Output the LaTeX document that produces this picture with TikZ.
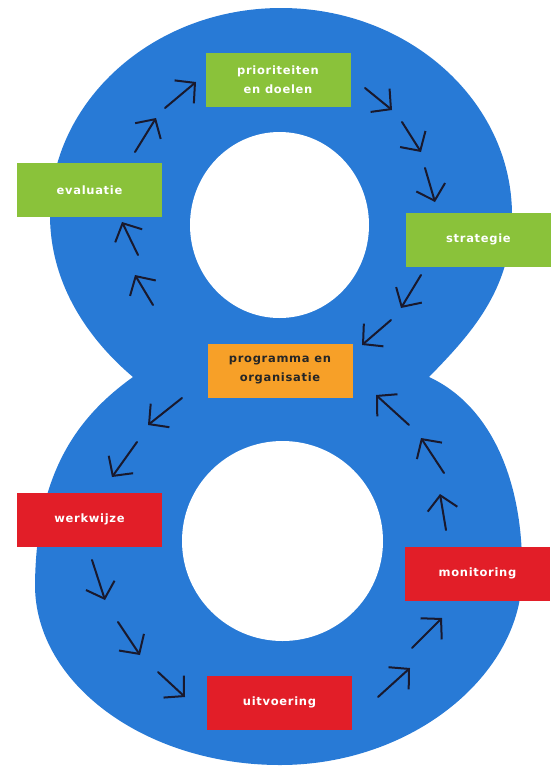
\documentclass[tikz,border=0pt]{standalone}
\usepackage{fontspec}
\usetikzlibrary{arrows.meta}
\newfontfamily\boxfont[LetterSpace=6]{DejaVu Sans}
\definecolor{eightblue}{RGB}{40,122,214}
\definecolor{boxgreen}{RGB}{138,194,58}
\definecolor{boxorange}{RGB}{247,160,40}
\definecolor{boxred}{RGB}{226,30,40}
\definecolor{arrowink}{RGB}{25,25,45}
\tikzset{
  stagebox/.style={minimum width=145pt, minimum height=54pt, inner sep=0pt,
    align=center, font=\boxfont\bfseries\fontsize{11.5}{19}\selectfont},
  greenbox/.style={stagebox, fill=boxgreen, text=white},
  redbox/.style={stagebox, fill=boxred, text=white},
  orangebox/.style={stagebox, fill=boxorange, text=black!85},
  flow/.style={draw=arrowink, line width=2pt, line cap=round,
    -{Straight Barb[length=14pt, width=30pt, line width=2pt]}}
}
\begin{document}
\begin{tikzpicture}[x=1pt, y=-1pt]
\useasboundingbox (0,0) rectangle (554,769);
% the figure eight
\fill[eightblue] (133,377)
  .. controls (80,415) and (36,470) .. (35,585)
  .. controls (35,684) and (146,765) .. (280,765)
  .. controls (413,765) and (522,674) .. (522,575)
  .. controls (524,480) and (490,405) .. (429,377)
  .. controls (470,335) and (512,290) .. (512,215)
  .. controls (512,101) and (408.5,8) .. (281,8)
  .. controls (153.5,8) and (50,101) .. (50,215)
  .. controls (50,290) and (95,345) .. (133,377) -- cycle;
\fill[white] (279.5,225) ellipse [x radius=89.5, y radius=93];
\fill[white] (282.5,541) ellipse [x radius=100.5, y radius=100];
% stage boxes
\node[greenbox]  (prio) at (278,80)   {prioriteiten\\en doelen};
\node[greenbox]  (eval) at (89.5,190) {evaluatie};
\node[greenbox]  (strat) at (478.5,239.5) {strategie};
\node[orangebox] (prog) at (280,370.5) {programma en\\organisatie};
\node[redbox]    (werk) at (89.5,519.5) {werkwijze};
\node[redbox]    (moni) at (477.5,573.5) {monitoring};
\node[redbox]    (uitv) at (279.5,702.5) {uitvoering};
% flow arrows along the eight
\coordinate (a1t) at (135,152); \coordinate (a1h) at (156,118);
\coordinate (a2t) at (165,108); \coordinate (a2h) at (196,82);
\coordinate (b1t) at (365,88);  \coordinate (b1h) at (392,110);
\coordinate (b2t) at (402,122); \coordinate (b2h) at (421,152);
\coordinate (b3t) at (425,168); \coordinate (b3h) at (435,202);
\coordinate (c1t) at (421,275); \coordinate (c1h) at (401,308);
\coordinate (c2t) at (391,320); \coordinate (c2h) at (362,345);
\coordinate (d1t) at (182,398); \coordinate (d1h) at (148,425);
\coordinate (d2t) at (137,442); \coordinate (d2h) at (112,477);
\coordinate (e1t) at (92,560);  \coordinate (e1h) at (105,600);
\coordinate (e2t) at (118,622); \coordinate (e2h) at (140,655);
\coordinate (e3t) at (158,672); \coordinate (e3h) at (185,697);
\coordinate (f1t) at (378,697); \coordinate (f1h) at (410,668);
\coordinate (f2t) at (412,648); \coordinate (f2h) at (442,618);
\coordinate (g1t) at (446,530); \coordinate (g1h) at (440,494);
\coordinate (g2t) at (444,473); \coordinate (g2h) at (421,438);
\coordinate (g3t) at (409,425); \coordinate (g3h) at (376,395);
\coordinate (h1t) at (153,305); \coordinate (h1h) at (135,275);
\coordinate (h2t) at (138,255); \coordinate (h2h) at (122,222);
\foreach \a in {a1,a2,b1,b2,b3,c1,c2,d1,d2,e1,e2,e3,f1,f2,g1,g2,g3,h1,h2}
  \draw[flow] (\a t) -- (\a h);
\end{tikzpicture}
\end{document}
